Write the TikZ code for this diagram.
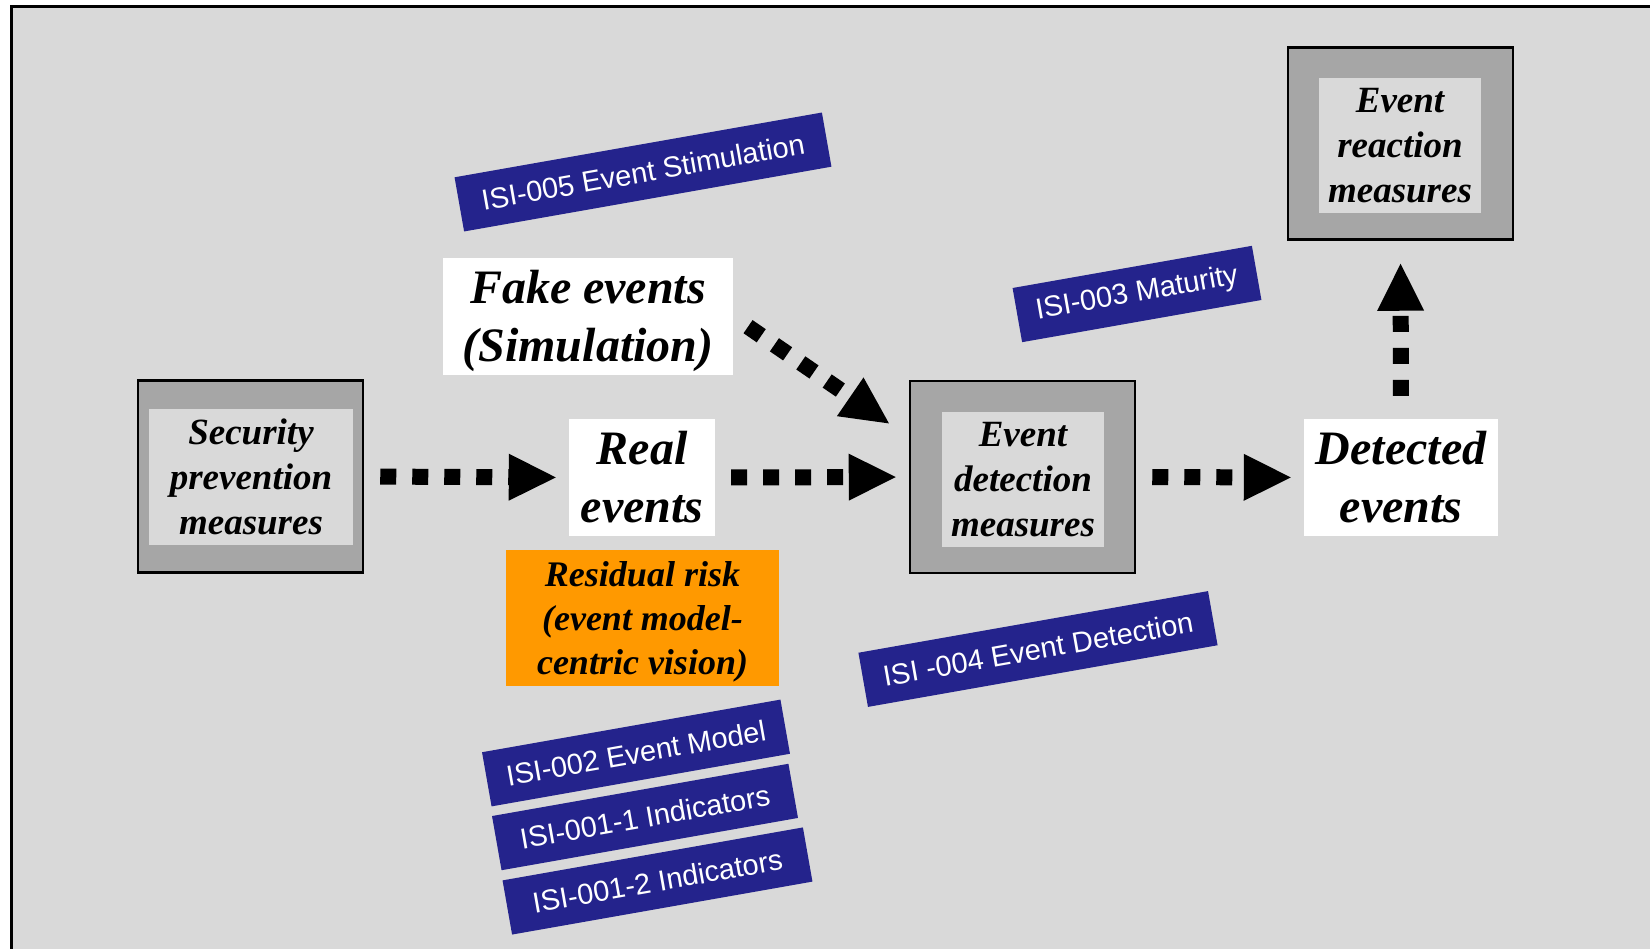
\documentclass[tikz,border=0pt]{standalone}
\usepackage{fontspec}
\setmainfont{Liberation Serif}
\setsansfont{Liberation Sans}
\usetikzlibrary{arrows.meta}
\definecolor{bggray}{HTML}{D9D9D9}
\definecolor{boxgray}{HTML}{A6A6A6}
\definecolor{tagblue}{HTML}{24238C}
\definecolor{riskorange}{HTML}{FF9900}
\begin{document}
\begin{tikzpicture}
  [x=1pt,y=-1pt,every node/.style={inner sep=0pt,align=center}]
  \tikzstyle{outerbox} = [draw=black,line width=2.5pt,fill=boxgray,minimum width=225pt,minimum height=192pt]
  \tikzstyle{innerbox} = [fill=bggray,minimum height=135pt,font=\fontsize{37}{45}\selectfont\bfseries\itshape]
  \tikzstyle{whitebox} = [fill=white,minimum height=117pt,font=\fontsize{48}{58}\selectfont\bfseries\itshape]
  \tikzstyle{tag} = [fill=tagblue,text=white,rotate=10,minimum height=55pt,font=\sffamily\fontsize{29}{34}\selectfont]
  \tikzstyle{dotarrow} = [line width=16pt,dash pattern=on 16pt off 16pt,-{Triangle[length=47pt,width=47pt,line width=0pt]}]

  \useasboundingbox (0,0) rectangle (1650,949);
  \clip (0,0) rectangle (1650,949);
  \draw[line width=3pt,fill=bggray] (11,7) rectangle (1680,980);

  \node[outerbox] (secu) at (250.5,476.5) {};
  \node[innerbox,minimum width=204pt] (secut) at (251,477) {Security\\prevention\\measures};
  \node[outerbox] (detect) at (1022.5,477) {};
  \node[innerbox,minimum width=162pt] (detectt) at (1023,479.5) {Event\\detection\\measures};
  \node[outerbox] (react) at (1400.5,143.5) {};
  \node[innerbox,minimum width=162pt] (reactt) at (1400,146) {Event\\reaction\\measures};

  \node[whitebox,minimum width=146pt] (real) at (642,477.5) {Real\\events};
  \node[whitebox,minimum width=290pt] (fake) at (588,316.5) {\rule{0pt}{43pt}Fake events\\(Simulation)};
  \node[whitebox,minimum width=194pt] (detected) at (1401,477.5) {Detected\\events};
  \node[fill=riskorange,minimum width=273pt,minimum height=136pt,
        font=\fontsize{36}{44}\selectfont\bfseries\itshape] (risk) at (642.5,618)
        {\rule{0pt}{33pt}Residual risk\\(event model-\\centric vision)};

  \node[tag,minimum width=373pt] (isi5) at (643,172) {ISI-005 Event Stimulation};
  \node[tag,minimum width=243pt] (isi3) at (1137,294) {ISI-003 Maturity};
  \node[tag,minimum width=355pt] (isi4) at (1038,649) {ISI -004 Event Detection};
  \node[tag,minimum width=303pt] (isi2) at (636,753) {ISI-002 Event Model};
  \node[tag,minimum width=301pt] (isi11) at (645,817) {ISI-001-1 Indicators};
  \node[tag,minimum width=305pt] (isi12) at (657.5,881) {ISI-001-2 Indicators};

  \foreach \from/\to in {secu/real,real/detect,detect/detected}
    \draw[dotarrow,shorten <=16pt,shorten >=13pt] (\from.east) -- (\to.west);
  \draw[dotarrow,shorten <=18pt,shorten >=24pt] (fake.east) -- ([yshift=40pt]detect.west);
  \draw[dotarrow,shorten <=23pt,shorten >=23pt] (detected.north) -- (react.south);

\end{tikzpicture}
\end{document}
